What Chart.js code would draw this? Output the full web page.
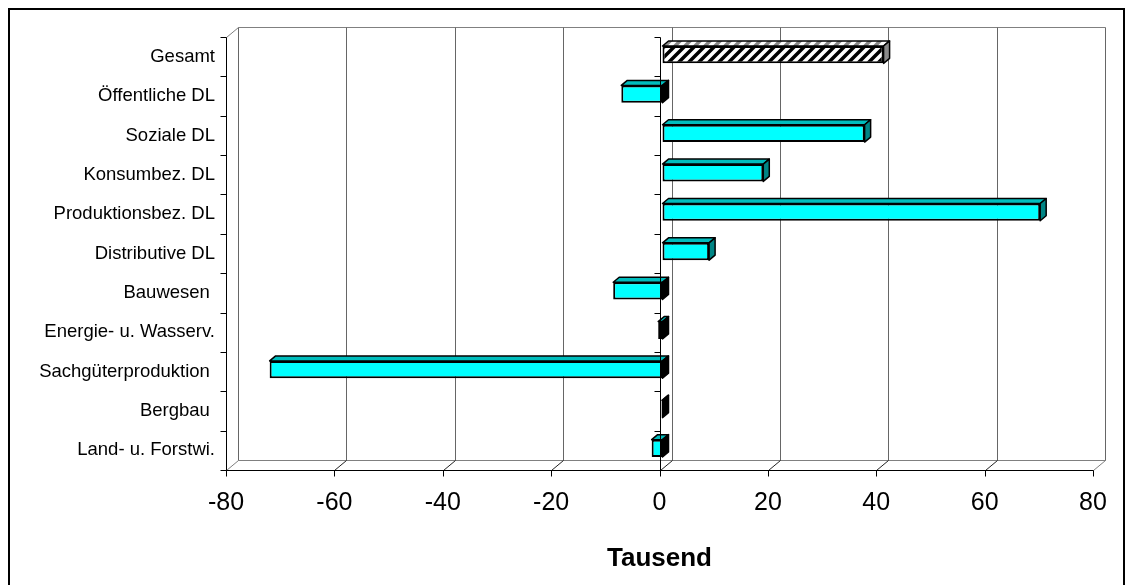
<!DOCTYPE html>
<html>
<head>
<meta charset="utf-8">
<script src="https://cdn.jsdelivr.net/npm/chart.js@4.4.1/dist/chart.umd.min.js"></script>
<style>
  html, body { margin: 0; padding: 0; background: #fff; }
  canvas { display: block; }
</style>
</head>
<body>
<canvas id="myChart" width="1133" height="585"></canvas>
<script>
/*---------------------------- data ------------------------------------*/
var categories = ['Gesamt', 'Öffentliche DL', 'Soziale DL', 'Konsumbez. DL',
  'Produktionsbez. DL', 'Distributive DL', 'Bauwesen ', 'Energie- u. Wasserv.',
  'Sachgüterproduktion ', 'Bergbau ', 'Land- u. Forstwi.'];
var values = [40.8, -7.6, 37.3, 18.6, 69.7, 8.6, -9.1, -0.8, -72.5, -0.1, -2.0];
var xMin = -80, xMax = 80, xStep = 20;
var axisTitle = 'Tausend';

/*---------------------------- 3d look ------------------------------------*/
var DX = 12, DY = -10;   // back wall offset
var BX = 3, BY = -2;     // bars sit a little behind the front
var FX = 6, FY = -5;     // depth of a bar

function hatch(ink) {
  var c = document.createElement('canvas');
  c.width = 10; c.height = 10;
  var g = c.getContext('2d');
  g.fillStyle = '#fff';
  g.fillRect(0, 0, 10, 10);
  g.strokeStyle = ink;
  g.lineWidth = 3.5;
  g.beginPath();
  g.moveTo(-2, 12); g.lineTo(12, -2);
  g.moveTo(-7, 7); g.lineTo(7, -7);
  g.moveTo(3, 17); g.lineTo(17, 3);
  g.stroke();
  return g.createPattern(c, 'repeat');
}
var hatchBlack = hatch('#000');
var hatchGrey = hatch('#8a8a8a');

var barColors = values.map(function (v, i) { return i === 0 ? hatchBlack : '#00FFFF'; });

function seg(ctx, x1, y1, x2, y2) {
  ctx.beginPath(); ctx.moveTo(x1, y1); ctx.lineTo(x2, y2); ctx.stroke();
}
function poly(ctx, pts, fill) {
  ctx.beginPath();
  ctx.moveTo(pts[0][0], pts[0][1]);
  for (var k = 1; k < pts.length; k++) ctx.lineTo(pts[k][0], pts[k][1]);
  ctx.closePath();
  ctx.fillStyle = fill; ctx.fill();
  ctx.stroke();
}

var frame3d = {
  id: 'frame3d',
  beforeDraw: function (chart) {
    var ctx = chart.ctx;
    ctx.save();
    ctx.fillStyle = '#fff';
    ctx.fillRect(0, 0, chart.width, chart.height);
    ctx.strokeStyle = '#000';
    ctx.lineWidth = 2;
    ctx.strokeRect(9, 9, 1115, 600);
    ctx.restore();
  },
  beforeDatasetsDraw: function (chart) {
    var a = chart.chartArea, xs = chart.scales.x, ctx = chart.ctx;
    var L = Math.round(a.left) + 0.5, R = Math.round(a.right) + 0.5;
    var T = Math.round(a.top) + 0.5, B = Math.round(a.bottom) + 0.5;
    ctx.save();
    ctx.lineWidth = 1;
    // back wall + grid
    ctx.strokeStyle = '#808080';
    seg(ctx, L + DX, T + DY, R + DX, T + DY);
    seg(ctx, L + DX, B + DY, R + DX, B + DY);
    seg(ctx, L, T, L + DX, T + DY);
    seg(ctx, L, B, L + DX, B + DY);
    seg(ctx, R, B, R + DX, B + DY);
    for (var v = xMin; v <= xMax; v += xStep) {
      var px = Math.round(xs.getPixelForValue(v)) + 0.5;
      ctx.strokeStyle = '#666';
      seg(ctx, px + DX, T + DY, px + DX, B + DY);
      if (v > xMin && v < xMax) {
        ctx.strokeStyle = '#222';
        seg(ctx, px, B, px + DX, B + DY);
      }
    }
    // left wall edge and bottom axis
    ctx.strokeStyle = '#000';
    seg(ctx, L, T, L, B);
    seg(ctx, L, B, R, B);
    for (v = xMin; v <= xMax; v += xStep) {
      px = Math.round(xs.getPixelForValue(v)) + 0.5;
      seg(ctx, px, B, px, B + 6);
    }
    var step = (a.bottom - a.top) / categories.length;
    for (var i = 0; i <= categories.length; i++) {
      var py = Math.round(a.top + i * step) + 0.5;
      seg(ctx, L - 6, py, L, py);
    }
    ctx.restore();
    ctx.save();
    ctx.translate(BX, BY);
  },
  afterDatasetsDraw: function (chart) {
    var ctx = chart.ctx, a = chart.chartArea, xs = chart.scales.x;
    var meta = chart.getDatasetMeta(0);
    ctx.lineWidth = 1.5;
    ctx.strokeStyle = '#000';
    ctx.lineJoin = 'round';
    meta.data.forEach(function (bar, i) {
      var p = bar.getProps(['x', 'y', 'base', 'height'], true);
      var l = Math.min(p.x, p.base), r = Math.max(p.x, p.base);
      var t = p.y - p.height / 2, b = p.y + p.height / 2;
      var neg = values[i] < 0;
      var topFill = i === 0 ? hatchGrey : '#00BDBD';
      var sideFill = i === 0 ? '#8a8a8a' : (neg ? '#000' : '#008585');
      poly(ctx, [[l, t], [l + FX, t + FY], [r + FX, t + FY], [r, t]], topFill);
      poly(ctx, [[r, t], [r + FX, t + FY], [r + FX, b + FY], [r, b]], sideFill);
    });
    ctx.restore();
    // category axis crossing at zero
    var zx = Math.round(xs.getPixelForValue(0)) + 0.5;
    var T = Math.round(a.top) + 0.5, B = Math.round(a.bottom) + 0.5;
    ctx.save();
    ctx.strokeStyle = '#000';
    ctx.lineWidth = 1;
    seg(ctx, zx, T, zx, B);
    var step = (a.bottom - a.top) / categories.length;
    for (var k = 0; k <= categories.length; k++) {
      var py = Math.round(a.top + k * step) + 0.5;
      seg(ctx, zx - 6, py, zx, py);
    }
    ctx.restore();
  }
};

new Chart('myChart', {
  type: 'bar',
  data: {
    labels: categories,
    datasets: [{
      data: values,
      backgroundColor: barColors,
      borderColor: '#000',
      borderWidth: 2,
      borderSkipped: false,
      barPercentage: 0.44,
      categoryPercentage: 1.0
    }]
  },
  options: {
    indexAxis: 'y',
    responsive: false,
    animation: false,
    devicePixelRatio: 1,
    layout: { padding: { left: 0, top: 37, right: 40, bottom: 0 } },
    plugins: {
      legend: { display: false },
      tooltip: { enabled: false }
    },
    scales: {
      x: {
        min: xMin,
        max: xMax,
        grid: { display: false, drawTicks: false },
        border: { display: false },
        ticks: {
          stepSize: xStep,
          color: '#000',
          padding: 18,
          maxRotation: 0,
          font: { family: 'Arial, "Liberation Sans"', size: 25 }
        },
        title: {
          display: true,
          text: axisTitle,
          color: '#000',
          padding: { top: 0, bottom: 11 },
          font: { family: 'Arial, "Liberation Sans"', size: 26, weight: 'bold' }
        },
        afterFit: function (scale) { scale.height = 115; }
      },
      y: {
        grid: { display: false, drawTicks: false },
        border: { display: false },
        ticks: {
          color: '#000',
          padding: 11,
          autoSkip: false,
          font: { family: 'Arial, "Liberation Sans"', size: 18.5 }
        },
        afterFit: function (scale) { scale.width = 226; }
      }
    }
  },
  plugins: [frame3d]
});
</script>
</body>
</html>
